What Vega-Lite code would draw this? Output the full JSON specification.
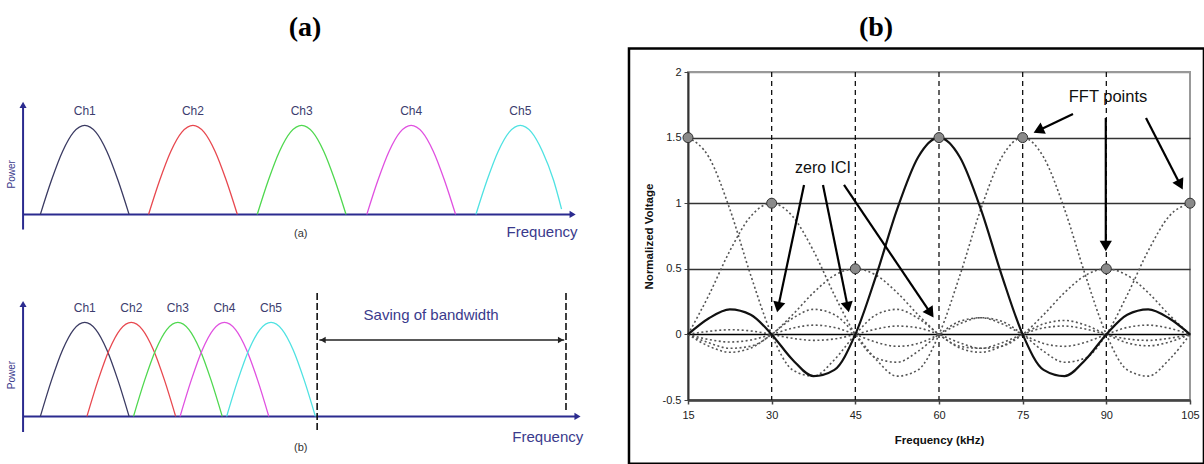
{
"$schema": "https://vega.github.io/schema/vega-lite/v6.json",
"padding": 0,
"background": "white",
"config": {"view": {"stroke": null}, "font": "Liberation Sans"},
"datasets": {
"humps": [
{"d":"a","ch":"Ch1","u":0.91,"p":0},{"d":"a","ch":"Ch1","u":1.16,"p":0.383},{"d":"a","ch":"Ch1","u":1.41,"p":0.707},{"d":"a","ch":"Ch1","u":1.66,"p":0.924},{"d":"a","ch":"Ch1","u":1.91,"p":1},{"d":"a","ch":"Ch1","u":2.16,"p":0.924},{"d":"a","ch":"Ch1","u":2.41,"p":0.707},{"d":"a","ch":"Ch1","u":2.66,"p":0.383},{"d":"a","ch":"Ch1","u":2.91,"p":0},
{"d":"a","ch":"Ch2","u":3.35,"p":0},{"d":"a","ch":"Ch2","u":3.6,"p":0.383},{"d":"a","ch":"Ch2","u":3.85,"p":0.707},{"d":"a","ch":"Ch2","u":4.1,"p":0.924},{"d":"a","ch":"Ch2","u":4.35,"p":1},{"d":"a","ch":"Ch2","u":4.6,"p":0.924},{"d":"a","ch":"Ch2","u":4.85,"p":0.707},{"d":"a","ch":"Ch2","u":5.1,"p":0.383},{"d":"a","ch":"Ch2","u":5.35,"p":0},
{"d":"a","ch":"Ch3","u":5.8,"p":0},{"d":"a","ch":"Ch3","u":6.05,"p":0.383},{"d":"a","ch":"Ch3","u":6.3,"p":0.707},{"d":"a","ch":"Ch3","u":6.55,"p":0.924},{"d":"a","ch":"Ch3","u":6.8,"p":1},{"d":"a","ch":"Ch3","u":7.05,"p":0.924},{"d":"a","ch":"Ch3","u":7.3,"p":0.707},{"d":"a","ch":"Ch3","u":7.55,"p":0.383},{"d":"a","ch":"Ch3","u":7.8,"p":0},
{"d":"a","ch":"Ch4","u":8.27,"p":0},{"d":"a","ch":"Ch4","u":8.52,"p":0.383},{"d":"a","ch":"Ch4","u":8.77,"p":0.707},{"d":"a","ch":"Ch4","u":9.02,"p":0.924},{"d":"a","ch":"Ch4","u":9.27,"p":1},{"d":"a","ch":"Ch4","u":9.52,"p":0.924},{"d":"a","ch":"Ch4","u":9.77,"p":0.707},{"d":"a","ch":"Ch4","u":10.02,"p":0.383},{"d":"a","ch":"Ch4","u":10.27,"p":0},
{"d":"a","ch":"Ch5","u":10.73,"p":0},{"d":"a","ch":"Ch5","u":10.98,"p":0.383},{"d":"a","ch":"Ch5","u":11.23,"p":0.707},{"d":"a","ch":"Ch5","u":11.48,"p":0.924},{"d":"a","ch":"Ch5","u":11.73,"p":1},{"d":"a","ch":"Ch5","u":11.98,"p":0.924},{"d":"a","ch":"Ch5","u":12.23,"p":0.707},{"d":"a","ch":"Ch5","u":12.48,"p":0.383},{"d":"a","ch":"Ch5","u":12.66,"p":0.06},
{"d":"b","ch":"Ch1","u":0.91,"p":0},{"d":"b","ch":"Ch1","u":1.16,"p":0.383},{"d":"b","ch":"Ch1","u":1.41,"p":0.707},{"d":"b","ch":"Ch1","u":1.66,"p":0.924},{"d":"b","ch":"Ch1","u":1.91,"p":1},{"d":"b","ch":"Ch1","u":2.16,"p":0.924},{"d":"b","ch":"Ch1","u":2.41,"p":0.707},{"d":"b","ch":"Ch1","u":2.66,"p":0.383},{"d":"b","ch":"Ch1","u":2.91,"p":0},
{"d":"b","ch":"Ch2","u":1.96,"p":0},{"d":"b","ch":"Ch2","u":2.21,"p":0.383},{"d":"b","ch":"Ch2","u":2.46,"p":0.707},{"d":"b","ch":"Ch2","u":2.71,"p":0.924},{"d":"b","ch":"Ch2","u":2.96,"p":1},{"d":"b","ch":"Ch2","u":3.21,"p":0.924},{"d":"b","ch":"Ch2","u":3.46,"p":0.707},{"d":"b","ch":"Ch2","u":3.71,"p":0.383},{"d":"b","ch":"Ch2","u":3.96,"p":0},
{"d":"b","ch":"Ch3","u":3.01,"p":0},{"d":"b","ch":"Ch3","u":3.26,"p":0.383},{"d":"b","ch":"Ch3","u":3.51,"p":0.707},{"d":"b","ch":"Ch3","u":3.76,"p":0.924},{"d":"b","ch":"Ch3","u":4.01,"p":1},{"d":"b","ch":"Ch3","u":4.26,"p":0.924},{"d":"b","ch":"Ch3","u":4.51,"p":0.707},{"d":"b","ch":"Ch3","u":4.76,"p":0.383},{"d":"b","ch":"Ch3","u":5.01,"p":0},
{"d":"b","ch":"Ch4","u":4.06,"p":0},{"d":"b","ch":"Ch4","u":4.31,"p":0.383},{"d":"b","ch":"Ch4","u":4.56,"p":0.707},{"d":"b","ch":"Ch4","u":4.81,"p":0.924},{"d":"b","ch":"Ch4","u":5.06,"p":1},{"d":"b","ch":"Ch4","u":5.31,"p":0.924},{"d":"b","ch":"Ch4","u":5.56,"p":0.707},{"d":"b","ch":"Ch4","u":5.81,"p":0.383},{"d":"b","ch":"Ch4","u":6.06,"p":0},
{"d":"b","ch":"Ch5","u":5.11,"p":0},{"d":"b","ch":"Ch5","u":5.36,"p":0.383},{"d":"b","ch":"Ch5","u":5.61,"p":0.707},{"d":"b","ch":"Ch5","u":5.86,"p":0.924},{"d":"b","ch":"Ch5","u":6.11,"p":1},{"d":"b","ch":"Ch5","u":6.36,"p":0.924},{"d":"b","ch":"Ch5","u":6.61,"p":0.707},{"d":"b","ch":"Ch5","u":6.86,"p":0.383},{"d":"b","ch":"Ch5","u":7.11,"p":0}
],
"ofdm": [
{"f":15,"c15":1.5,"c30":0,"c45":0,"c60":0,"c75":0,"c90":0,"c105":0},
{"f":18.75,"c15":1.3505,"c30":0.3001,"c45":-0.0643,"c60":0.1227,"c75":-0.09,"c90":0.0237,"c105":-0.0391},
{"f":22.5,"c15":0.9549,"c30":0.6366,"c45":-0.1061,"c60":0.191,"c75":-0.1364,"c90":0.0354,"c105":-0.0579},
{"f":26.25,"c15":0.4502,"c30":0.9003,"c45":-0.0901,"c60":0.15,"c75":-0.104,"c90":0.0265,"c105":-0.0429},
{"f":30,"c15":0,"c30":1,"c45":0,"c60":0,"c75":0,"c90":0,"c105":0},
{"f":33.75,"c15":-0.2702,"c30":0.9003,"c45":0.15,"c60":-0.1929,"c75":0.1227,"c90":-0.03,"c105":0.0474},
{"f":37.5,"c15":-0.3183,"c30":0.6366,"c45":0.3183,"c60":-0.3183,"c75":0.191,"c90":-0.0455,"c105":0.0707},
{"f":41.25,"c15":-0.1929,"c30":0.3001,"c45":0.4502,"c60":-0.2702,"c75":0.15,"c90":-0.0347,"c105":0.053},
{"f":45,"c15":0,"c30":0,"c45":0.5,"c60":0,"c75":0,"c90":0,"c105":0},
{"f":48.75,"c15":0.15,"c30":-0.1801,"c45":0.4502,"c60":0.4502,"c75":-0.1929,"c90":0.0409,"c105":-0.06},
{"f":52.5,"c15":0.191,"c30":-0.2122,"c45":0.3183,"c60":0.9549,"c75":-0.3183,"c90":0.0637,"c105":-0.0909},
{"f":56.25,"c15":0.1227,"c30":-0.1286,"c45":0.15,"c60":1.3505,"c75":-0.2702,"c90":0.05,"c105":-0.0693},
{"f":60,"c15":0,"c30":0,"c45":0,"c60":1.5,"c75":0,"c90":0,"c105":0},
{"f":63.75,"c15":-0.104,"c30":0.1,"c45":-0.0901,"c60":1.3505,"c75":0.4502,"c90":-0.0643,"c105":0.0818},
{"f":67.5,"c15":-0.1364,"c30":0.1273,"c45":-0.1061,"c60":0.9549,"c75":0.9549,"c90":-0.1061,"c105":0.1273},
{"f":71.25,"c15":-0.09,"c30":0.0818,"c45":-0.0643,"c60":0.4502,"c75":1.3505,"c90":-0.0901,"c105":0.1},
{"f":75,"c15":0,"c30":0,"c45":0,"c60":0,"c75":1.5,"c90":0,"c105":0},
{"f":78.75,"c15":0.0795,"c30":-0.0693,"c45":0.05,"c60":-0.2702,"c75":1.3505,"c90":0.15,"c105":-0.1286},
{"f":82.5,"c15":0.1061,"c30":-0.0909,"c45":0.0637,"c60":-0.3183,"c75":0.9549,"c90":0.3183,"c105":-0.2122},
{"f":86.25,"c15":0.0711,"c30":-0.06,"c45":0.0409,"c60":-0.1929,"c75":0.4502,"c90":0.4502,"c105":-0.1801},
{"f":90,"c15":0,"c30":0,"c45":0,"c60":0,"c75":0,"c90":0.5,"c105":0},
{"f":93.75,"c15":-0.0644,"c30":0.053,"c45":-0.0347,"c60":0.15,"c75":-0.2702,"c90":0.4502,"c105":0.3001},
{"f":97.5,"c15":-0.0869,"c30":0.0707,"c45":-0.0455,"c60":0.191,"c75":-0.3183,"c90":0.3183,"c105":0.6366},
{"f":101.25,"c15":-0.0587,"c30":0.0474,"c45":-0.03,"c60":0.1227,"c75":-0.1929,"c90":0.15,"c105":0.9003},
{"f":105,"c15":0,"c30":0,"c45":0,"c60":0,"c75":0,"c90":0,"c105":1}
]
},
"hconcat": [
{
"vconcat": [
{"width": 610, "height": 56, "data": {"values": [{"t": "(a)"}]},
 "mark": {"type": "text", "font": "Liberation Serif", "fontWeight": "bold", "fontSize": 28, "baseline": "middle", "color": "#000"},
 "encoding": {"text": {"field": "t"}}},
{"width": 621, "height": 178,
 "layer": [
  {"data": {"values": [{}]}, "mark": {"type": "rule", "color": "#2b2b8f", "strokeWidth": 2},
   "encoding": {"x": {"datum": 0.52, "type": "quantitative", "scale": {"domain": [0, 13.5]}, "axis": null}, "y": {"datum": -0.17, "type": "quantitative", "scale": {"domain": [-0.35, 1.55]}, "axis": null}, "y2": {"datum": 1.23}}},
  {"data": {"values": [{}]}, "mark": {"type": "rule", "color": "#2b2b8f", "strokeWidth": 2},
   "encoding": {"x": {"datum": 0.52, "type": "quantitative", "axis": null}, "x2": {"datum": 12.91}, "y": {"datum": 0, "type": "quantitative", "axis": null}}},
  {"data": {"name": "humps"}, "transform": [{"filter": "datum.d === 'a'"}],
   "mark": {"type": "line", "interpolate": "monotone", "strokeWidth": 1.3},
   "encoding": {"x": {"field": "u", "type": "quantitative", "axis": null}, "y": {"field": "p", "type": "quantitative", "axis": null},
    "color": {"field": "ch", "type": "nominal", "scale": {"domain": ["Ch1","Ch2","Ch3","Ch4","Ch5"], "range": ["#3a3a62","#e8484f","#4fd84f","#e050e0","#4fe2e2"]}, "legend": null}}},
  {"data": {"values": [{}]}, "mark": {"type": "point", "shape": "triangle-up", "size": 50, "filled": true, "color": "#2b2b8f", "opacity": 1},
   "encoding": {"x": {"datum": 0.52, "type": "quantitative", "axis": null}, "y": {"datum": 1.23, "type": "quantitative", "axis": null}}},
  {"data": {"values": [{}]}, "mark": {"type": "point", "shape": "triangle-right", "size": 50, "filled": true, "color": "#2b2b8f", "opacity": 1},
   "encoding": {"x": {"datum": 12.91, "type": "quantitative", "axis": null}, "y": {"datum": 0, "type": "quantitative", "axis": null}}},
  {"data": {"name": "humps"}, "transform": [{"filter": "datum.d === 'a' && datum.p === 1"}],
   "mark": {"type": "text", "fontSize": 12, "color": "#3c3c6e"},
   "encoding": {"x": {"field": "u", "type": "quantitative", "axis": null}, "y": {"datum": 1.166, "type": "quantitative", "axis": null}, "text": {"field": "ch"}}},
  {"data": {"values": [{}]}, "mark": {"type": "text", "text": "Power", "angle": 270, "fontSize": 10, "color": "#3a3a8c"},
   "encoding": {"x": {"datum": 0.27, "type": "quantitative", "axis": null}, "y": {"datum": 0.45, "type": "quantitative", "axis": null}}},
  {"data": {"values": [{}]}, "mark": {"type": "text", "text": "Frequency", "fontSize": 15, "color": "#3a3a8c"},
   "encoding": {"x": {"datum": 12.22, "type": "quantitative", "axis": null}, "y": {"datum": -0.2, "type": "quantitative", "axis": null}}},
  {"data": {"values": [{}]}, "mark": {"type": "text", "text": "(a)", "fontSize": 11, "color": "#333"},
   "encoding": {"x": {"datum": 6.78, "type": "quantitative", "axis": null}, "y": {"datum": -0.22, "type": "quantitative", "axis": null}}}
 ]},
{"width": 621, "height": 188,
 "layer": [
  {"data": {"values": [{}]}, "mark": {"type": "rule", "color": "#2b2b8f", "strokeWidth": 2},
   "encoding": {"x": {"datum": 0.52, "type": "quantitative", "scale": {"domain": [0, 13.5]}, "axis": null}, "y": {"datum": -0.166, "type": "quantitative", "scale": {"domain": [-0.4, 1.6]}, "axis": null}, "y2": {"datum": 1.196}}},
  {"data": {"values": [{}]}, "mark": {"type": "rule", "color": "#2b2b8f", "strokeWidth": 2},
   "encoding": {"x": {"datum": 0.52, "type": "quantitative", "axis": null}, "x2": {"datum": 13.02}, "y": {"datum": 0, "type": "quantitative", "axis": null}}},
  {"data": {"values": [{}]}, "mark": {"type": "rule", "color": "#111", "strokeWidth": 1.6, "strokeDash": [7, 3]},
   "encoding": {"x": {"datum": 7.15, "type": "quantitative", "axis": null}, "y": {"datum": 1.313, "type": "quantitative", "axis": null}, "y2": {"datum": -0.166}}},
  {"data": {"values": [{}]}, "mark": {"type": "rule", "color": "#111", "strokeWidth": 1.6, "strokeDash": [7, 3]},
   "encoding": {"x": {"datum": 12.76, "type": "quantitative", "axis": null}, "y": {"datum": 1.313, "type": "quantitative", "axis": null}, "y2": {"datum": 0.047}}},
  {"data": {"values": [{}]}, "mark": {"type": "rule", "color": "#222", "strokeWidth": 1.6},
   "encoding": {"x": {"datum": 7.2, "type": "quantitative", "axis": null}, "x2": {"datum": 12.72}, "y": {"datum": 0.813, "type": "quantitative", "axis": null}}},
  {"data": {"values": [{}]}, "mark": {"type": "point", "shape": "triangle-left", "size": 40, "filled": true, "color": "#222", "opacity": 1},
   "encoding": {"x": {"datum": 7.28, "type": "quantitative", "axis": null}, "y": {"datum": 0.813, "type": "quantitative", "axis": null}}},
  {"data": {"values": [{}]}, "mark": {"type": "point", "shape": "triangle-right", "size": 40, "filled": true, "color": "#222", "opacity": 1},
   "encoding": {"x": {"datum": 12.64, "type": "quantitative", "axis": null}, "y": {"datum": 0.813, "type": "quantitative", "axis": null}}},
  {"data": {"name": "humps"}, "transform": [{"filter": "datum.d === 'b'"}],
   "mark": {"type": "line", "interpolate": "monotone", "strokeWidth": 1.3},
   "encoding": {"x": {"field": "u", "type": "quantitative", "axis": null}, "y": {"field": "p", "type": "quantitative", "axis": null},
    "color": {"field": "ch", "type": "nominal", "scale": {"domain": ["Ch1","Ch2","Ch3","Ch4","Ch5"], "range": ["#3a3a62","#e8484f","#4fd84f","#e050e0","#4fe2e2"]}, "legend": null}}},
  {"data": {"values": [{}]}, "mark": {"type": "point", "shape": "triangle-up", "size": 50, "filled": true, "color": "#2b2b8f", "opacity": 1},
   "encoding": {"x": {"datum": 0.52, "type": "quantitative", "axis": null}, "y": {"datum": 1.196, "type": "quantitative", "axis": null}}},
  {"data": {"values": [{}]}, "mark": {"type": "point", "shape": "triangle-right", "size": 50, "filled": true, "color": "#2b2b8f", "opacity": 1},
   "encoding": {"x": {"datum": 13.02, "type": "quantitative", "axis": null}, "y": {"datum": 0, "type": "quantitative", "axis": null}}},
  {"data": {"name": "humps"}, "transform": [{"filter": "datum.d === 'b' && datum.p === 1"}],
   "mark": {"type": "text", "fontSize": 12, "color": "#3c3c6e"},
   "encoding": {"x": {"field": "u", "type": "quantitative", "axis": null}, "y": {"datum": 1.153, "type": "quantitative", "axis": null}, "text": {"field": "ch"}}},
  {"data": {"values": [{}]}, "mark": {"type": "text", "text": "Power", "angle": 270, "fontSize": 10, "color": "#3a3a8c"},
   "encoding": {"x": {"datum": 0.27, "type": "quantitative", "axis": null}, "y": {"datum": 0.44, "type": "quantitative", "axis": null}}},
  {"data": {"values": [{}]}, "mark": {"type": "text", "text": "Saving of bandwidth", "fontSize": 15, "color": "#3a3a8c"},
   "encoding": {"x": {"datum": 9.72, "type": "quantitative", "axis": null}, "y": {"datum": 1.079, "type": "quantitative", "axis": null}}},
  {"data": {"values": [{}]}, "mark": {"type": "text", "text": "Frequency", "fontSize": 15, "color": "#3a3a8c"},
   "encoding": {"x": {"datum": 12.35, "type": "quantitative", "axis": null}, "y": {"datum": -0.219, "type": "quantitative", "axis": null}}},
  {"data": {"values": [{}]}, "mark": {"type": "text", "text": "(b)", "fontSize": 11, "color": "#333"},
   "encoding": {"x": {"datum": 6.78, "type": "quantitative", "axis": null}, "y": {"datum": -0.336, "type": "quantitative", "axis": null}}}
 ]}
],
"spacing": 16,
"bounds": "flush"
},
{
"vconcat": [
{"width": 376, "height": 56, "data": {"values": [{"t": "(b)"}]},
 "mark": {"type": "text", "font": "Liberation Serif", "fontWeight": "bold", "fontSize": 28, "baseline": "middle", "color": "#000"},
 "encoding": {"text": {"field": "t"}}},
{"width": 502, "height": 328,
 "view": {"stroke": "#999", "strokeWidth": 2},
 "layer": [
  {"data": {"values": [{}]}, "mark": {"type": "rect", "filled": false, "stroke": "#000", "strokeWidth": 2.5, "clip": false},
   "encoding": {"x": {"datum": 4.42, "type": "quantitative"}, "x2": {"datum": 107.5}, "y": {"datum": 2.18, "type": "quantitative"}, "y2": {"datum": -0.985}}},
  {"data": {"values": [{"f": 30}, {"f": 45}, {"f": 60}, {"f": 75}, {"f": 90}]},
   "mark": {"type": "rule", "color": "#111", "strokeWidth": 1.3, "strokeDash": [5, 4]},
   "encoding": {"x": {"field": "f", "type": "quantitative"}}},
  {"data": {"name": "ofdm"}, "transform": [{"fold": ["c15", "c30", "c45", "c75", "c90", "c105"], "as": ["carrier", "volt"]}],
   "mark": {"type": "line", "interpolate": "monotone", "color": "#555", "strokeWidth": 1.6, "strokeDash": [2, 2.5]},
   "encoding": {"x": {"field": "f", "type": "quantitative"}, "y": {"field": "volt", "type": "quantitative"}, "detail": {"field": "carrier"}}},
  {"data": {"name": "ofdm"},
   "mark": {"type": "line", "interpolate": "monotone", "color": "#111", "strokeWidth": 2.2},
   "encoding": {
    "x": {"field": "f", "type": "quantitative", "scale": {"domain": [15, 105], "nice": false, "zero": false},
     "axis": {"values": [15, 30, 45, 60, 75, 90, 105], "title": "Frequency (kHz)", "titleFontSize": 11.5, "titleFontWeight": "bold", "titleColor": "#111", "titlePadding": 14,
      "labelFontSize": 11, "labelColor": "#222", "labelPadding": 5, "labelFlush": false, "tickSize": 4, "tickColor": "#444", "tickWidth": 1.5, "domainColor": "#444", "domainWidth": 2.5, "grid": false}},
    "y": {"field": "c60", "type": "quantitative", "scale": {"domain": [-0.5, 2], "nice": false, "zero": false},
     "axis": {"values": [-0.5, 0, 0.5, 1, 1.5, 2], "labelExpr": "'' + datum.value", "title": "Normalized Voltage", "titleFontSize": 11.5, "titleFontWeight": "bold", "titleColor": "#111", "titlePadding": 8,
      "labelFontSize": 11, "labelColor": "#222", "labelPadding": 3, "tickSize": 4, "tickColor": "#444", "domainColor": "#333", "domainWidth": 2,
      "grid": true, "gridWidth": 1.3, "gridColor": {"condition": [{"test": "datum.value === 0", "value": "#000"}, {"test": "datum.value === 2", "value": "#999"}], "value": "#333"}}}}},
  {"data": {"values": [{}]}, "mark": {"type": "rule", "color": "#000", "strokeWidth": 2.2}, "encoding": {"x": {"datum": 35.8}, "y": {"datum": 1.139}, "x2": {"datum": 31.17}, "y2": {"datum": 0.208}}},
  {"data": {"values": [{}]}, "mark": {"type": "rule", "color": "#000", "strokeWidth": 2.2}, "encoding": {"x": {"datum": 39.2}, "y": {"datum": 1.139}, "x2": {"datum": 43.65}, "y2": {"datum": 0.208}}},
  {"data": {"values": [{}]}, "mark": {"type": "rule", "color": "#000", "strokeWidth": 2.2}, "encoding": {"x": {"datum": 42.97}, "y": {"datum": 1.139}, "x2": {"datum": 58.49}, "y2": {"datum": 0.163}}},
  {"data": {"values": [{}]}, "mark": {"type": "rule", "color": "#000", "strokeWidth": 2.2}, "encoding": {"x": {"datum": 84.02}, "y": {"datum": 1.68}, "x2": {"datum": 77.82}, "y2": {"datum": 1.555}}},
  {"data": {"values": [{}]}, "mark": {"type": "rule", "color": "#000", "strokeWidth": 2.2}, "encoding": {"x": {"datum": 89.9}, "y": {"datum": 1.649}, "x2": {"datum": 89.9}, "y2": {"datum": 0.674}}},
  {"data": {"values": [{}]}, "mark": {"type": "rule", "color": "#000", "strokeWidth": 2.2}, "encoding": {"x": {"datum": 97.11}, "y": {"datum": 1.649}, "x2": {"datum": 103.26}, "y2": {"datum": 1.141}}},
  {"data": {"values": [{}]}, "mark": {"type": "point", "shape": "triangle-up", "angle": 192, "size": 150, "filled": true, "color": "#000", "opacity": 1}, "encoding": {"x": {"datum": 31.17}, "y": {"datum": 0.208}}},
  {"data": {"values": [{}]}, "mark": {"type": "point", "shape": "triangle-up", "angle": 168.5, "size": 150, "filled": true, "color": "#000", "opacity": 1}, "encoding": {"x": {"datum": 43.65}, "y": {"datum": 0.208}}},
  {"data": {"values": [{}]}, "mark": {"type": "point", "shape": "triangle-up", "angle": 146, "size": 150, "filled": true, "color": "#000", "opacity": 1}, "encoding": {"x": {"datum": 58.49}, "y": {"datum": 0.163}}},
  {"data": {"values": [{}]}, "mark": {"type": "point", "shape": "triangle-up", "angle": 244.6, "size": 150, "filled": true, "color": "#000", "opacity": 1}, "encoding": {"x": {"datum": 77.82}, "y": {"datum": 1.555}}},
  {"data": {"values": [{}]}, "mark": {"type": "point", "shape": "triangle-up", "angle": 180, "size": 150, "filled": true, "color": "#000", "opacity": 1}, "encoding": {"x": {"datum": 89.9}, "y": {"datum": 0.674}}},
  {"data": {"values": [{}]}, "mark": {"type": "point", "shape": "triangle-up", "angle": 152.8, "size": 150, "filled": true, "color": "#000", "opacity": 1}, "encoding": {"x": {"datum": 103.26}, "y": {"datum": 1.141}}},
  {"data": {"values": [{"f": 15, "v": 1.5}, {"f": 30, "v": 1}, {"f": 45, "v": 0.5}, {"f": 60, "v": 1.5}, {"f": 75, "v": 1.5}, {"f": 90, "v": 0.5}, {"f": 105, "v": 1}]},
   "mark": {"type": "point", "filled": true, "fill": "#8a8a8a", "stroke": "#333", "strokeWidth": 1, "size": 100, "opacity": 1},
   "encoding": {"x": {"field": "f", "type": "quantitative"}, "y": {"field": "v", "type": "quantitative"}}},
  {"data": {"values": [{}]}, "mark": {"type": "text", "text": "zero ICI", "fontSize": 16, "color": "#111"}, "encoding": {"x": {"datum": 39.2}, "y": {"datum": 1.265}}},
  {"data": {"values": [{}]}, "mark": {"type": "text", "text": "FFT points", "fontSize": 16.5, "color": "#111"}, "encoding": {"x": {"datum": 90.3}, "y": {"datum": 1.806}}}
 ]}
],
"spacing": 16,
"bounds": "flush"
}
],
"spacing": 5,
"bounds": "full"
}
